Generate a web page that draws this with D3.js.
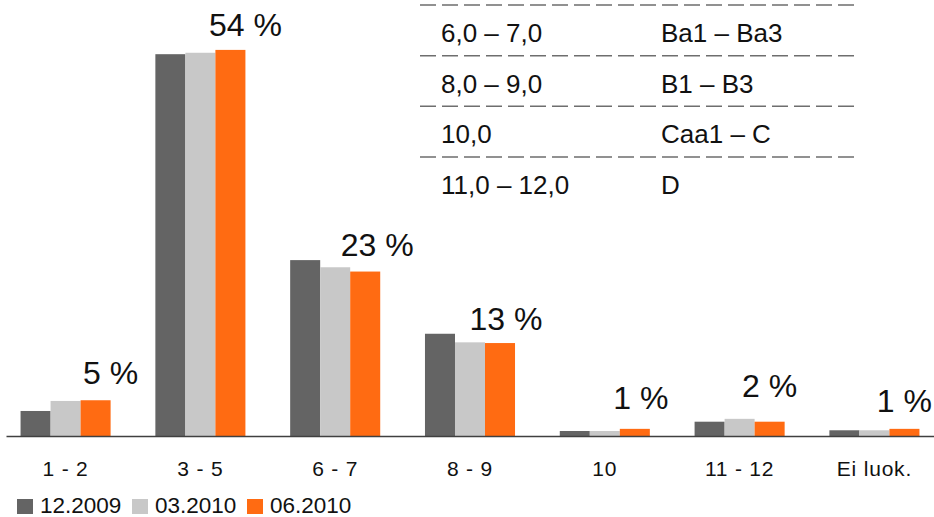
<!DOCTYPE html>
<html>
<head>
<meta charset="utf-8">
<script src="https://cdn.jsdelivr.net/npm/d3@7"></script>
<style>
  html, body { margin: 0; padding: 0; background: #fff; }
  svg { display: block; font-family: "Liberation Sans", Arial, sans-serif; }
</style>
</head>
<body>
<svg id="chart" width="934" height="517"></svg>
<script>
// Rating classes on the x axis
const categories = ["1 - 2", "3 - 5", "6 - 7", "8 - 9", "10", "11 - 12", "Ei luok."];
// Series (share of portfolio, %)
const seriesNames = ["12.2009", "03.2010", "06.2010"];
const values2009_12 = [3.5, 53.4, 24.6, 14.3, 0.7, 2.0, 0.8];
const values2010_03 = [4.9, 53.6, 23.6, 13.1, 0.7, 2.4, 0.8];
const values2010_06 = [5, 54, 23, 13, 1, 2, 1];
// Rating mapping table
const tableScores = ["6,0 – 7,0", "8,0 – 9,0", "10,0", "11,0 – 12,0"];
const tableRatings = ["Ba1 – Ba3", "B1 – B3", "Caa1 – C", "D"];

const seriesValues = [values2009_12, values2010_03, values2010_06];
const colors = ["#646464", "#c8c8c8", "#ff6b12"];

const svg = d3.select("#chart");

const x0 = d3.scaleBand().domain(categories).range([6, 934])
  .paddingInner(0.332).paddingOuter(0.108);
const x1 = d3.scaleBand().domain(seriesNames).range([0, x0.bandwidth()]);
const y = d3.scaleLinear().domain([0, 60]).range([436, 7]);

// Bars
const groups = svg.append("g").selectAll("g")
  .data(categories)
  .join("g")
  .attr("transform", d => `translate(${x0(d)},0)`);

groups.selectAll("rect")
  .data((c, i) => seriesNames.map((s, k) => ({ s, k, v: seriesValues[k][i] })))
  .join("rect")
  .attr("x", d => x1(d.s))
  .attr("width", x1.bandwidth())
  .attr("y", d => y(d.v))
  .attr("height", d => y(0) - y(d.v))
  .attr("fill", d => colors[d.k]);

// Baseline and category labels
const xAxis = d3.axisBottom(x0).tickSize(0).tickPadding(0);
const gx = svg.append("g").attr("transform", `translate(0,${y(0)})`).call(xAxis);
gx.select(".domain").attr("stroke", "#404040").attr("stroke-width", 1.5);
gx.selectAll(".tick text")
  .attr("y", 40).attr("dy", 0)
  .attr("font-size", 21).attr("letter-spacing", 0.8).attr("fill", "#111")
  .attr("font-family", "Liberation Sans, Arial, sans-serif");

// Value labels for the latest series, nudged off the orange bar
const labelNudge = [[15, 16], [15, 14], [12, 16], [6, 13], [6, 20], [0, 25], [0, 17]];
svg.append("g").selectAll("text")
  .data(categories)
  .join("text")
  .attr("x", (c, i) => x0(c) + x1(seriesNames[2]) + x1.bandwidth() / 2 + labelNudge[i][0])
  .attr("y", (c, i) => y(values2010_06[i]) - labelNudge[i][1])
  .attr("text-anchor", "middle")
  .attr("font-size", 32)
  .attr("fill", "#111")
  .text((c, i) => `${values2010_06[i]} %`);

// Rating mapping table: a dashed rule above each row
const rowY = d3.scaleLinear().domain([0, tableScores.length - 1]).range([5, 157]);
const table = svg.append("g");
table.selectAll("line")
  .data(d3.range(tableScores.length))
  .join("line")
  .attr("x1", 420).attr("x2", 858)
  .attr("y1", d => rowY(d)).attr("y2", d => rowY(d))
  .attr("stroke", "#6e6e6e").attr("stroke-width", 1.5)
  .attr("stroke-dasharray", "16 6");
table.selectAll("text.score")
  .data(tableScores)
  .join("text")
  .attr("class", "score")
  .attr("x", 441)
  .attr("y", (d, i) => rowY(i) + 37)
  .attr("font-size", 26).attr("fill", "#111")
  .text(d => d);
table.selectAll("text.rating")
  .data(tableRatings)
  .join("text")
  .attr("class", "rating")
  .attr("x", 661)
  .attr("y", (d, i) => rowY(i) + 37)
  .attr("font-size", 26).attr("fill", "#111")
  .text(d => d);

// Legend
const legend = svg.append("g").attr("transform", "translate(17,499)");
const items = legend.selectAll("g")
  .data(seriesNames)
  .join("g")
  .attr("transform", (d, i) => `translate(${i * 115},0)`);
items.append("rect").attr("width", 16).attr("height", 15).attr("fill", (d, i) => colors[i]);
items.append("text").attr("x", 23).attr("y", 14)
  .attr("font-size", 22.5).attr("fill", "#111").text(d => d);
</script>
</body>
</html>
